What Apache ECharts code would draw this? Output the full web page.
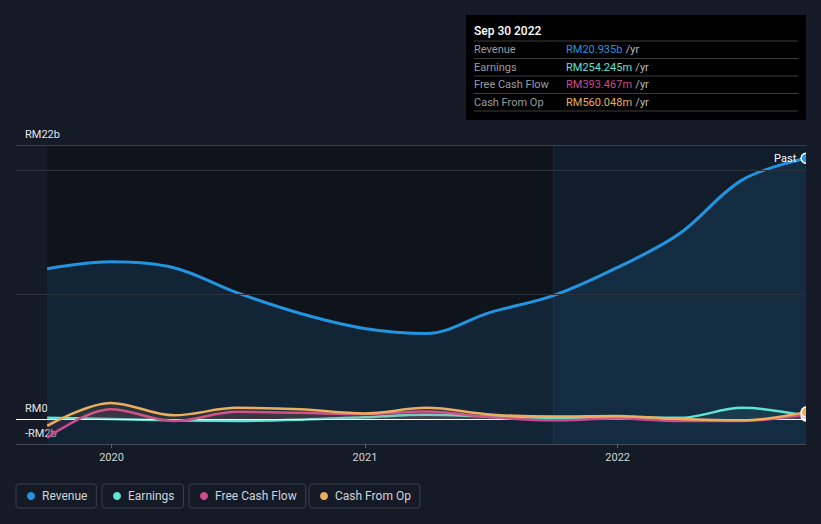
<!DOCTYPE html>
<html>
<head>
<meta charset="utf-8">
<script src="https://cdn.jsdelivr.net/npm/echarts@6/dist/echarts.min.js"></script>
<style>
html,body{margin:0;padding:0;background:#151b26;}
#chart{width:821px;height:524px;}
</style>
</head>
<body>
<div id="chart"></div>
<script>
// ---- data ----
const dates = ['2019-09-30','2019-12-31','2020-03-31','2020-06-30','2020-09-30','2020-12-31','2021-03-31','2021-06-30','2021-09-30','2021-12-31','2022-03-31','2022-06-30','2022-09-30'];
const revenue = [12.07, 12.63, 12.15, 10.15, 8.47, 7.27, 6.87, 8.55, 9.91, 12.15, 14.87, 19.2, 20.935];
const earnings = [0.1, 0.0, -0.1, -0.15, -0.05, 0.15, 0.35, 0.2, 0.1, 0.1, 0.1, 0.9, 0.254245];
const freeCashFlow = [-1.5, 0.78, -0.15, 0.58, 0.5, 0.4, 0.6, 0.15, -0.1, 0.05, -0.15, -0.15, 0.393467];
const cashFromOp = [-0.55, 1.3, 0.3, 0.9, 0.78, 0.45, 0.9, 0.37, 0.2, 0.25, 0.0, -0.1, 0.560048];
const seriesNames = ['Revenue', 'Earnings', 'Free Cash Flow', 'Cash From Op'];
const yearTicks = ['2020-01-01', '2021-01-01', '2022-01-01'];
const yLabelValues = [-2, 0, 22];
const yGridValues = [10, 20, 22];
const highlightStart = '2021-09-30';
const axisMin = '2019-08-16';
const axisMax = '2022-09-30';

// ---- helpers ----
function toTime(s){ const p = s.split('-').map(Number); return Date.UTC(p[0], p[1]-1, p[2]); }
const colors = ['#2394df', '#5fe3d2', '#cc4a8d', '#eaae5f'];
const fills = ['rgba(35,140,215,0.2)', 'rgba(95,227,210,0.12)', 'rgba(204,74,141,0.18)', 'rgba(234,174,95,0.15)'];
const values = [revenue, earnings, freeCashFlow, cashFromOp];
const bg = '#151b26';
const FONT = 'Roboto, "Noto Sans", sans-serif';

function fmtVal(v){
  if (Math.abs(v) >= 1) return 'RM' + v.toFixed(3) + 'b';
  return 'RM' + (v*1000).toFixed(3) + 'm';
}
function fmtDate(s){
  const m = ['Jan','Feb','Mar','Apr','May','Jun','Jul','Aug','Sep','Oct','Nov','Dec'];
  const p = s.split('-').map(Number);
  return m[p[1]-1] + ' ' + p[2] + ' ' + p[0];
}

const series = values.map((arr, i) => {
  const n = arr.length;
  const data = arr.map((v, j) => {
    const item = { value: [toTime(dates[j]), v] };
    if (j === n - 1) {
      item.symbol = 'circle';
      item.symbolSize = 10;
      item.itemStyle = { color: colors[i], borderColor: '#ffffff', borderWidth: 1.5 };
      if (i === 0) {
        item.label = { show: true, position: 'left', distance: 4, formatter: 'Past', color: '#ffffff', fontSize: 11, fontFamily: FONT };
      }
    }
    return item;
  });
  const s = {
    name: seriesNames[i],
    type: 'line',
    data: data,
    symbol: 'none',
    showSymbol: true,
    smooth: 0.35,
    lineStyle: { color: colors[i], width: i === 0 ? 3 : 2.5 },
    itemStyle: { color: colors[i] },
    areaStyle: { color: fills[i], origin: i === 0 ? 'start' : 0 },
    emphasis: { disabled: true },
    z: 3 + i
  };
  if (i === 0) {
    s.markArea = {
      silent: true,
      data: [
        [{ xAxis: toTime(dates[0]), itemStyle: { color: 'rgba(0,0,0,0.25)' } }, { xAxis: toTime(highlightStart) }],
        [{ xAxis: toTime(highlightStart), itemStyle: { color: 'rgba(8,36,58,0.28)' } }, { xAxis: toTime(axisMax) }]
      ]
    };
    s.markLine = {
      silent: true,
      symbol: 'none',
      label: { show: false },
      data: yGridValues.map(v => ({ yAxis: v, lineStyle: { color: v === 22 ? '#3a404b' : '#2c333f', width: 1, type: 'solid' } }))
        .concat([{ yAxis: 0, lineStyle: { color: '#ffffff', width: 1.2, type: 'solid' } }])
        .concat([{ xAxis: toTime(highlightStart), lineStyle: { color: 'rgba(255,255,255,0.05)', width: 1, type: 'solid' } }])
    };
  }
  return s;
});

const legendLefts = [16, 102, 189, 309];
const legends = seriesNames.map((name, i) => ({
  data: [name],
  left: legendLefts[i],
  top: 484,
  orient: 'horizontal',
  icon: 'circle',
  itemWidth: 8,
  itemHeight: 8,
  padding: [6, 9, 6, 11],
  borderColor: '#3a404b',
  borderWidth: 1,
  borderRadius: 3,
  selectedMode: false,
  textStyle: { color: '#cfd3da', fontSize: 12, fontFamily: FONT, padding: [0, 0, 0, 2] }
}));

// tooltip-like box
const lastIdx = dates.length - 1;
const graphic = [
  { type: 'rect', left: 466, top: 15, shape: { width: 340, height: 105 }, style: { fill: '#000000' }, z: 100 },
  { type: 'text', x: 474, y: 31, style: { text: fmtDate(dates[lastIdx]), fill: '#ffffff', font: '500 12px ' + FONT, verticalAlign: 'middle' }, z: 101 }
];
const sepYs = [41, 58.5, 76, 93.5, 111];
sepYs.forEach(y => graphic.push({ type: 'line', shape: { x1: 474, y1: y, x2: 798, y2: y }, style: { stroke: '#3d3d3d', lineWidth: 1 }, z: 101 }));
seriesNames.forEach((name, i) => {
  const y = 49.5 + i * 17.5;
  graphic.push({ type: 'text', x: 474, y: y, style: { text: name, fill: '#9a9da3', font: '11px ' + FONT, verticalAlign: 'middle' }, z: 101 });
  graphic.push({ type: 'text', x: 566, y: y, style: {
    text: '{v|' + fmtVal(values[i][lastIdx]) + '} {u|/yr}',
    verticalAlign: 'middle',
    rich: { v: { fill: colors[i], font: '11px ' + FONT }, u: { fill: '#b8bbc1', font: '11px ' + FONT } }
  }, z: 101 });
});
graphic.push({ type: 'rect', left: 806, top: 130, shape: { width: 15, height: 330 }, style: { fill: bg }, z: 50 });

const chart = echarts.init(document.getElementById('chart'), null, { renderer: 'svg' });
chart.setOption({
  backgroundColor: bg,
  animation: false,
  textStyle: { fontFamily: FONT },
  grid: { left: 16, right: 15, top: 145, bottom: 80, containLabel: false },
  xAxis: {
    type: 'value',
    min: toTime(axisMin),
    max: toTime(axisMax),
    axisLine: { show: true, onZero: false, lineStyle: { color: '#454b56', width: 1 } },
    axisTick: { show: true, customValues: yearTicks.map(toTime), length: 4, lineStyle: { color: '#5a606b' } },
    axisLabel: { customValues: yearTicks.map(toTime), formatter: v => String(new Date(v).getUTCFullYear()), color: '#cfd3da', fontSize: 11, margin: 8, fontFamily: FONT },
    splitLine: { show: false }
  },
  yAxis: {
    type: 'value',
    min: -2,
    max: 22,
    axisLine: { show: false },
    axisTick: { show: false },
    splitLine: { show: false },
    axisLabel: {
      inside: true,
      customValues: yLabelValues,
      margin: 9,
      verticalAlign: 'bottom',
      padding: [0, 0, 5, 0],
      color: '#e2e5ea',
      fontSize: 11,
      fontFamily: FONT,
      formatter: v => v === 0 ? 'RM0' : (v < 0 ? '-' : '') + 'RM' + Math.abs(v) + 'b'
    }
  },
  legend: legends,
  series: series,
  graphic: graphic
});
</script>
</body>
</html>
